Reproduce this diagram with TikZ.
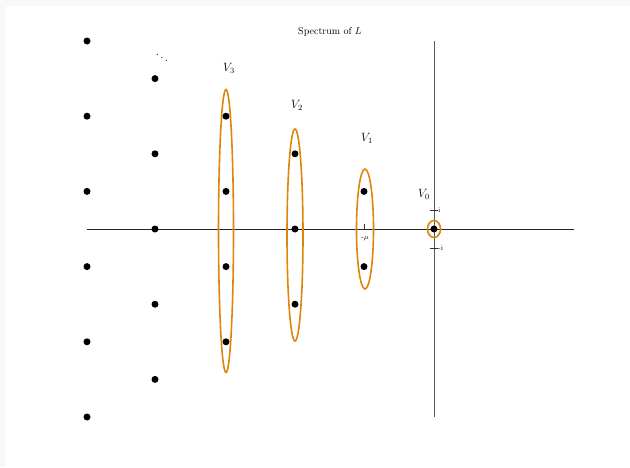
\documentclass[tikz,border=0pt]{standalone}
\usetikzlibrary{shapes.geometric}
\definecolor{orng}{RGB}{222,134,10}
\definecolor{bgray}{RGB}{248,248,248}
\begin{document}
\begin{tikzpicture}[x=1pt,y=-1pt,
  dot/.style={circle,fill=black,inner sep=0pt,minimum size=7pt},
  ell/.style={draw=orng,line width=1.6pt,ellipse,inner sep=0pt},
  lbl/.style={inner sep=0pt},
  vlbl/.style={inner sep=0pt,font=\large},
  ticklbl/.style={font=\scriptsize,inner sep=1pt}]
\fill[bgray] (0,0) rectangle (630,467);
\fill[white] (6,6) rectangle (630,467);
\useasboundingbox (0,0) rectangle (630,467);
% axes
\coordinate (xl) at (87,229);
\coordinate (xr) at (574,229);
\coordinate (yt) at (434,41);
\coordinate (yb) at (434,417);
\draw[black!85,line width=0.6pt] (xl) -- (xr);
\draw[black!65,line width=0.7pt] (yt) -- (yb);
% ticks
\coordinate (ti1) at (430,210); \coordinate (ti2) at (438,210);
\coordinate (tm1) at (430,248); \coordinate (tm2) at (438,248);
\coordinate (tu1) at (364,224); \coordinate (tu2) at (364,229);
\draw[black!80,line width=0.5pt] (ti1) -- (ti2);
\draw[black!80,line width=0.5pt] (tm1) -- (tm2);
\draw[black!80,line width=0.5pt] (tu1) -- (tu2);
\node[ticklbl,anchor=west] (li) at (437,210) {i};
\node[ticklbl,anchor=west] (lmi) at (437,248) {-i};
\node[ticklbl] (lmu) at (365,239) {-$\mu$};
% title
\node[lbl] (title) at (330,32) {Spectrum of $L$};
% ellipses
\node[ell,minimum width=15pt,minimum height=283pt] (e3) at (226,231) {};
\node[ell,minimum width=16pt,minimum height=212pt] (e2) at (295,235) {};
\node[ell,minimum width=17pt,minimum height=120pt] (e1) at (365,229) {};
\node[ell,minimum width=13pt,minimum height=17pt] (e0) at (434,229) {};
% labels
\node[vlbl] (V3) at (229,68) {$V_3$};
\node[vlbl] (V2) at (297,105) {$V_2$};
\node[vlbl] (V1) at (367,138) {$V_1$};
\node[vlbl] (V0) at (424,194) {$V_0$};
\node[vlbl] (dd) at (162,55) {$\ddots$};
% dots
\foreach \y [count=\i] in {41,116.2,191.4,266.6,341.8,417}
  \node[dot] (a\i) at (87,\y) {};
\foreach \y [count=\i] in {78.6,153.8,229,304.2,379.4}
  \node[dot] (b\i) at (155,\y) {};
\foreach \y [count=\i] in {116.2,191.4,266.6,341.8}
  \node[dot] (c\i) at (226,\y) {};
\foreach \y [count=\i] in {153.8,229,304.2}
  \node[dot] (d\i) at (295,\y) {};
\foreach \y [count=\i] in {191.4,266.6}
  \node[dot] (f\i) at (364,\y) {};
\node[dot] (g1) at (434,229) {};
\end{tikzpicture}
\end{document}
